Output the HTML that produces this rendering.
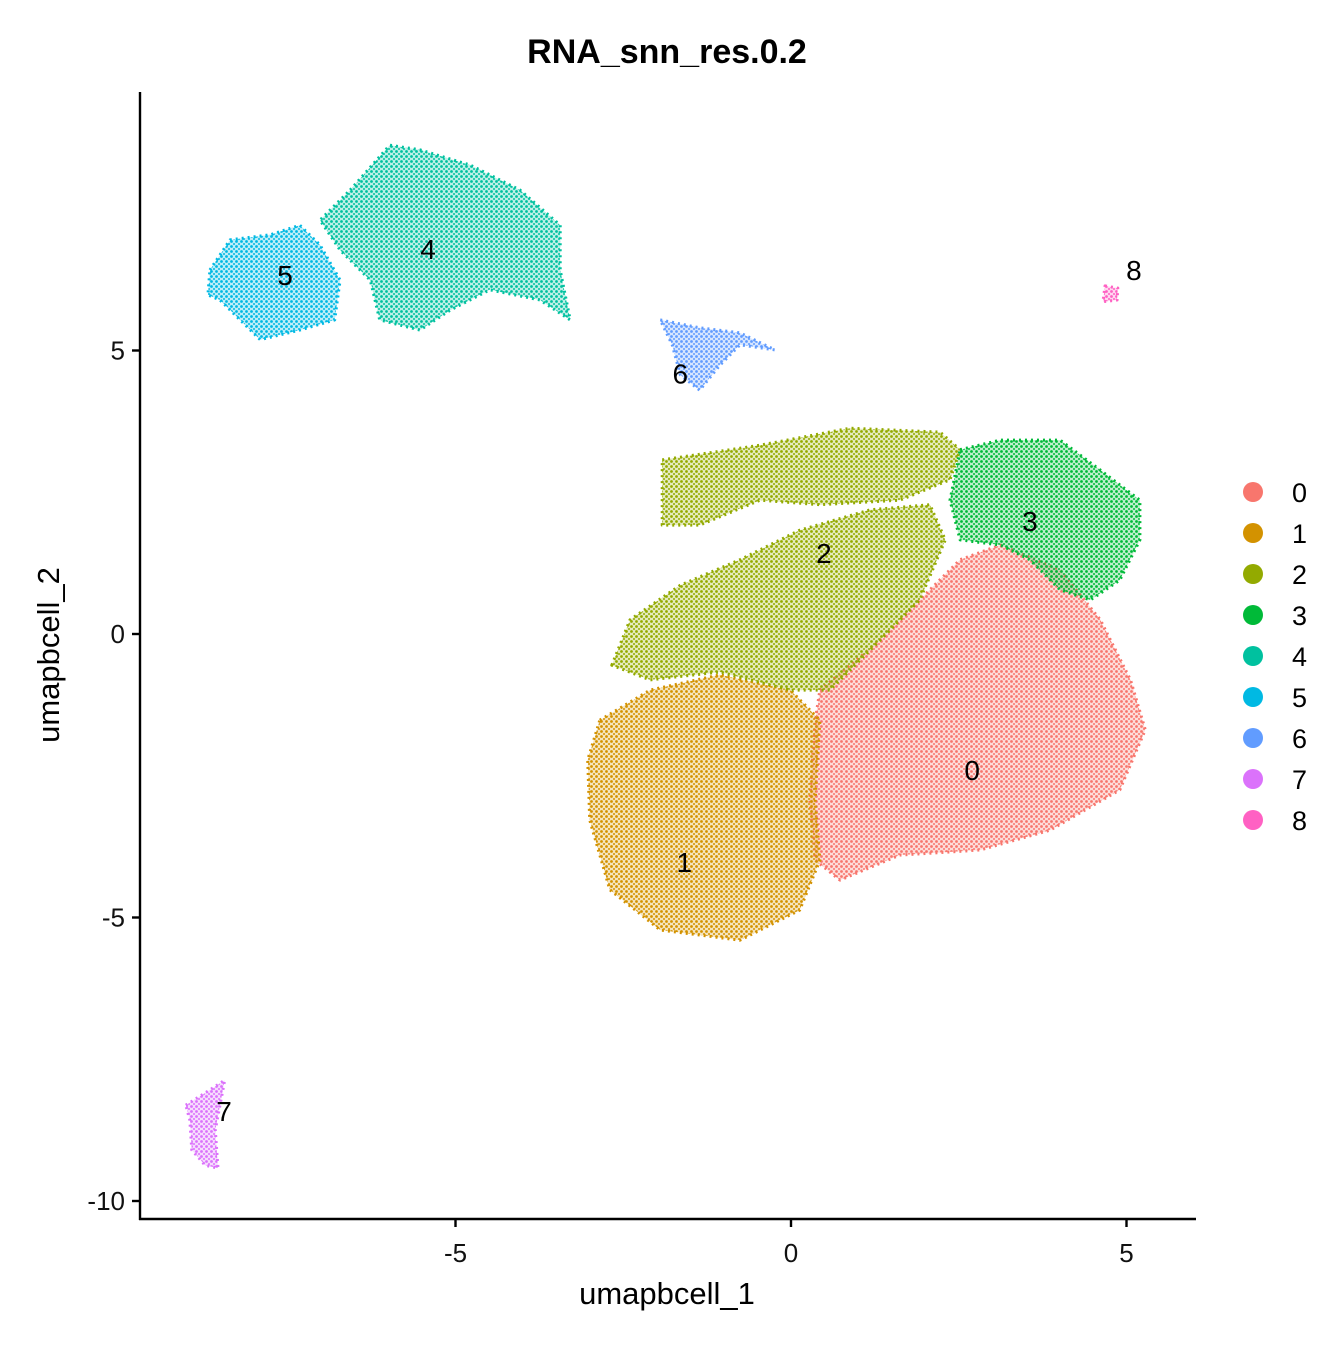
<!DOCTYPE html>
<html><head><meta charset="utf-8"><style>
body{margin:0;background:#fff;}
text{font-family:"Liberation Sans",Arial,sans-serif;}
</style></head><body>
<svg id="chart" width="1344" height="1344" viewBox="0 0 1344 1344" xmlns="http://www.w3.org/2000/svg">
<defs id="defs"></defs>
<rect width="1344" height="1344" fill="#fff"/>
<text x="667" y="63" text-anchor="middle" font-size="34" font-weight="bold">RNA_snn_res.0.2</text>
<g id="regions"></g>
<g id="labels"></g>
<g id="axes"></g>
<g id="legend"></g>
<text x="667" y="1304" text-anchor="middle" font-size="31">umapbcell_1</text>
<text transform="translate(59,655) rotate(-90)" text-anchor="middle" font-size="31">umapbcell_2</text>
</svg>
<script>
const clusters=["0","1","2","3","4","5","6","7","8"];
const colors=["#F8766D","#D39200","#93AA00","#00BA38","#00C19F","#00B9E3","#619CFF","#DB72FB","#FF61C3"];
const regionCluster=[0,1,2,2,3,4,5,6,7,8];
const regionPoints=[
[[0.43,-0.99],[1.33,-0.11],[2.07,0.78],[2.52,1.31],[3.12,1.57],[4.01,1.13],[4.61,0.25],[5.06,-0.81],[5.28,-1.69],[4.90,-2.75],[3.86,-3.46],[2.82,-3.81],[1.62,-3.90],[0.73,-4.34],[0.36,-3.99],[0.28,-2.93],[0.36,-1.52]],
[[-2.85,-1.52],[-2.10,-0.99],[-1.06,-0.72],[-0.01,-0.99],[0.43,-1.52],[0.36,-2.93],[0.43,-3.99],[0.13,-4.87],[-0.76,-5.40],[-1.95,-5.22],[-2.70,-4.51],[-3.00,-3.28],[-3.03,-2.22]],
[[-1.92,3.07],[-0.46,3.33],[0.88,3.63],[2.22,3.56],[2.52,3.25],[2.37,2.72],[1.62,2.36],[0.43,2.28],[-0.46,2.36],[-1.36,1.92],[-1.92,1.92]],
[[-2.67,-0.55],[-2.40,0.25],[-1.65,0.86],[-0.76,1.31],[0.13,1.83],[1.18,2.19],[2.07,2.28],[2.30,1.66],[1.92,0.60],[1.33,-0.11],[0.58,-0.99],[-0.01,-0.99],[-1.06,-0.67],[-2.10,-0.81]],
[[2.52,3.25],[3.12,3.42],[4.01,3.42],[4.61,2.89],[5.20,2.36],[5.20,1.66],[4.90,0.95],[4.46,0.60],[4.01,0.78],[3.56,1.31],[3.12,1.57],[2.52,1.66],[2.37,2.36]],
[[-6.57,7.83],[-5.98,8.62],[-5.53,8.54],[-4.78,8.27],[-4.04,7.83],[-3.44,7.21],[-3.44,6.42],[-3.29,5.54],[-3.74,5.89],[-4.49,6.07],[-5.08,5.71],[-5.53,5.36],[-6.13,5.54],[-6.27,6.24],[-6.72,6.77],[-7.02,7.30]],
[[-8.66,6.42],[-8.36,6.95],[-7.76,7.04],[-7.32,7.21],[-7.02,6.86],[-6.72,6.24],[-6.80,5.54],[-7.32,5.36],[-7.91,5.19],[-8.21,5.54],[-8.51,5.89],[-8.69,5.98]],
[[-1.95,5.54],[-1.36,5.40],[-0.76,5.31],[-0.24,5.01],[-0.76,5.10],[-1.06,4.74],[-1.36,4.30],[-1.65,4.57],[-1.77,5.10]],
[[-9.02,-8.31],[-8.66,-8.04],[-8.44,-7.87],[-8.58,-8.75],[-8.54,-9.42],[-8.73,-9.37],[-8.93,-9.10],[-8.96,-8.57]],
[[4.68,6.14],[4.87,6.10],[4.86,5.89],[4.65,5.86]]
];
const labelX=[2.70,-1.59,0.49,3.56,-5.41,-7.54,-1.65,-8.45,5.11];
const labelY=[-2.40,-4.02,1.43,1.99,6.79,6.33,4.59,-8.41,6.42];
const xTicks=[-5,0,5];
const yTicks=[-10,-5,0,5];
const xTickLabels=["-5","0","5"];
const yTickLabels=["-10","-5","0","5"];

const X=v=>791+v*67.1, Y=v=>634-v*56.7;
const NS="http://www.w3.org/2000/svg";
function mk(t,a,p){const e=document.createElementNS(NS,t);for(const k in a)e.setAttribute(k,a[k]);p.appendChild(e);return e;}
const defs=document.getElementById('defs');
colors.forEach((c,i)=>{
  const p=mk('pattern',{id:'pat'+i,width:5,height:5,patternUnits:'userSpaceOnUse'},defs);
  mk('rect',{width:5,height:5,fill:c,'fill-opacity':0.25},p);
  mk('circle',{cx:1.5,cy:1.5,r:1.4,fill:c},p);
  mk('circle',{cx:4,cy:4,r:1.0,fill:c},p);
});
const rg=document.getElementById('regions');
regionPoints.forEach((pts,i)=>{
  const c=regionCluster[i];
  const d=pts.map((p,j)=>(j?'L':'M')+X(p[0]).toFixed(1)+','+Y(p[1]).toFixed(1)).join('')+'Z';
  const el=mk('path',{d:d,fill:'url(#pat'+c+')',stroke:colors[c],'stroke-width':3,'stroke-dasharray':'2 4','stroke-linejoin':'round'},rg);
  
  
});
const lg=document.getElementById('labels');
clusters.forEach((c,i)=>{
  const t=mk('text',{x:X(labelX[i]),y:Y(labelY[i])+10,'text-anchor':'middle','font-size':28},lg);
  t.textContent=c;
  
  
});
const ax=document.getElementById('axes');
mk('line',{x1:140,y1:92,x2:140,y2:1220,stroke:'#000','stroke-width':2.4},ax);
mk('line',{x1:139,y1:1219,x2:1196,y2:1219,stroke:'#000','stroke-width':2.4},ax);
xTicks.forEach((v,i)=>{
  mk('line',{x1:X(v),y1:1219,x2:X(v),y2:1227,stroke:'#000','stroke-width':2.4},ax);
  const t=mk('text',{x:X(v),y:1262,'text-anchor':'middle','font-size':26,fill:'#111'},ax);
  t.textContent=xTickLabels[i];
  
  
});
yTicks.forEach((v,i)=>{
  mk('line',{x1:132,y1:Y(v),x2:140,y2:Y(v),stroke:'#000','stroke-width':2.4},ax);
  const t=mk('text',{x:125,y:Y(v)+9,'text-anchor':'end','font-size':26,fill:'#111'},ax);
  t.textContent=yTickLabels[i];
  
  
});
const leg=document.getElementById('legend');
clusters.forEach((c,i)=>{
  const y=492+i*41;
  const ci=mk('circle',{cx:1253,cy:y,r:10,fill:colors[i]},leg);
  
  
  const t=mk('text',{x:1292,y:y+10,'font-size':27,'text-anchor':'start'},leg);
  t.textContent=c;
  
  
});
</script>
</body></html>
